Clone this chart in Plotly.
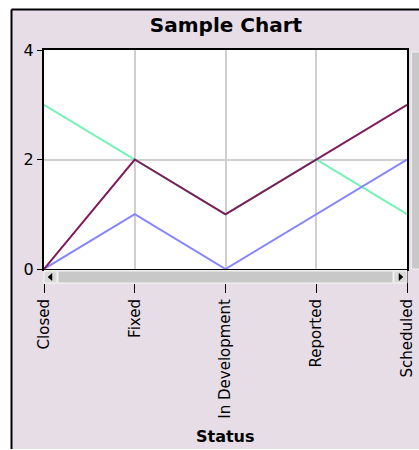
import plotly.graph_objects as go

categories = ["Closed", "Fixed", "In Development", "Reported", "Scheduled"]
series_green = [3, 2, 1, 2, 1]
series_blue = [0, 1, 0, 1, 2]
series_purple = [0, 2, 1, 2, 3]
y_ticks = [0, 2, 4]

W, H = 419, 450
L, R, T, B = 44, 407, 50, 269  # plot area in page px
pw, ph = R - L, B - T

def px(x):
    return (x - L) / pw

def py(y):
    return (B - y) / ph

LAV = "#E6DDE6"
FONT = "DejaVu Sans, Arial, sans-serif"

fig = go.Figure()
fig.add_trace(go.Scatter(x=categories, y=series_green, mode="lines",
                         line=dict(color="#74F2B6", width=2), name="Series 1"))
fig.add_trace(go.Scatter(x=categories, y=series_blue, mode="lines",
                         line=dict(color="#8585FF", width=2), name="Series 2"))
fig.add_trace(go.Scatter(x=categories, y=series_purple, mode="lines",
                         line=dict(color="#7F1A5C", width=2), name="Series 3"))

shapes = [
    # lavender frame
    dict(type="rect", xref="paper", yref="paper", layer="below",
         x0=px(12), x1=px(430), y0=py(449), y1=py(10),
         fillcolor=LAV, line=dict(width=0)),
    # frame left and top black edges
    dict(type="line", xref="paper", yref="paper", layer="below",
         x0=px(11.5), x1=px(11.5), y0=py(449), y1=py(9.5),
         line=dict(color="black", width=2)),
    dict(type="line", xref="paper", yref="paper", layer="below",
         x0=px(11.5), x1=px(430), y0=py(9.5), y1=py(9.5),
         line=dict(color="black", width=2)),
    # white plot area
    dict(type="rect", xref="paper", yref="paper", layer="below",
         x0=0, x1=1, y0=0, y1=1, fillcolor="white", line=dict(width=0)),
    # horizontal scrollbar track
    dict(type="rect", xref="paper", yref="paper", layer="above",
         x0=px(44), x1=px(407), y0=py(284), y1=py(270),
         fillcolor="#E8E8E8", line=dict(width=0)),
    dict(type="rect", xref="paper", yref="paper", layer="above",
         x0=px(58), x1=px(393), y0=py(283), y1=py(271),
         fillcolor="#C8C8C8", line=dict(color="#F4F4F4", width=1)),
    # left button
    dict(type="rect", xref="paper", yref="paper", layer="above",
         x0=px(44), x1=px(57), y0=py(283), y1=py(271),
         fillcolor="#DADADA", line=dict(color="#F4F4F4", width=1)),
    # right button
    dict(type="rect", xref="paper", yref="paper", layer="above",
         x0=px(394), x1=px(407), y0=py(283), y1=py(271),
         fillcolor="#DADADA", line=dict(color="#F4F4F4", width=1)),
    # vertical scrollbar at right
    dict(type="rect", xref="paper", yref="paper", layer="above",
         x0=px(411.5), x1=px(425), y0=py(269), y1=py(52),
         fillcolor="#C8C8C8", line=dict(color="#F0F0F0", width=1)),
]

def tri(points):
    s = "M " + " L ".join(f"{px(a)},{py(b)}" for a, b in points) + " Z"
    return dict(type="path", xref="paper", yref="paper", layer="above",
                path=s, fillcolor="black", line=dict(color="black", width=0.5))

shapes.append(tri([(48, 277), (52, 273.5), (52, 280.5)]))
shapes.append(tri([(403, 277), (399, 273.5), (399, 280.5)]))

fig.update_layout(
    width=W, height=H, autosize=False,
    margin=dict(l=L, r=W - R, t=T, b=H - B, pad=0, autoexpand=False),
    paper_bgcolor="white",
    plot_bgcolor="white",
    showlegend=False,
    shapes=shapes,
    title=dict(text="<b>Sample Chart</b>", x=px(226), xref="paper",
               y=1 - 25 / H, yref="container", xanchor="center", yanchor="middle",
               automargin=False,
               font=dict(family=FONT, size=20, color="black")),
    annotations=[dict(text="<b>Status</b>", xref="paper", yref="paper",
                      x=px(226), y=py(436), xanchor="center", yanchor="middle",
                      showarrow=False, font=dict(family=FONT, size=16, color="black"))],
    xaxis=dict(type="category", categoryorder="array", categoryarray=categories,
               range=[0, 4], showgrid=True, gridcolor="#CFCFCF", gridwidth=2,
               showline=True, linecolor="black", linewidth=2, mirror=True,
               ticks="outside", ticklen=22, tickcolor="black", tickwidth=1,
               tickangle=-90, tickfont=dict(family=FONT, size=15, color="black"),
               zeroline=False, fixedrange=True, automargin=False),
    yaxis=dict(range=[0, 4], tickvals=y_ticks, ticktext=[str(v) for v in y_ticks],
               showgrid=True, gridcolor="#CFCFCF", gridwidth=2,
               showline=True, linecolor="black", linewidth=2, mirror=True,
               ticks="outside", ticklen=5, tickcolor="black",
               tickfont=dict(family=FONT, size=16, color="black"),
               zeroline=False, fixedrange=True, automargin=False),
)

fig.write_html(
    "out.html",
    config={"displayModeBar": False},
    post_script="document.body.style.margin='0';document.documentElement.style.overflow='hidden';",
)
